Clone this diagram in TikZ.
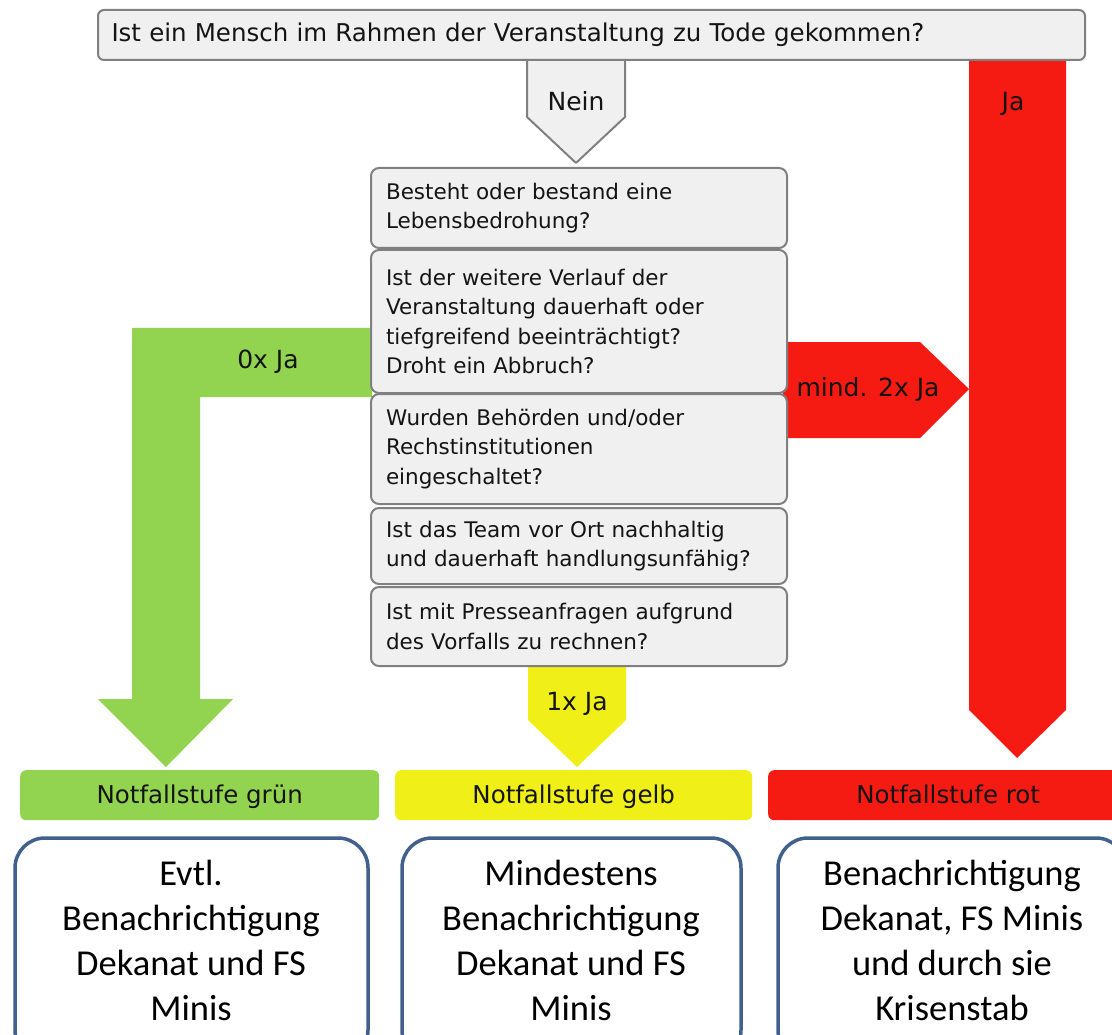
\documentclass[tikz,border=0pt]{standalone}
\usepackage{fontspec}
\setmainfont{DejaVu Sans}
\newfontfamily\calib{Carlito}
\definecolor{qfill}{RGB}{240,240,240}
\definecolor{qline}{RGB}{128,128,128}
\definecolor{lgreen}{RGB}{146,212,80}
\definecolor{lyellow}{RGB}{240,240,24}
\definecolor{lred}{RGB}{245,26,18}
\definecolor{bblue}{RGB}{66,96,140}
\definecolor{txt}{RGB}{20,20,20}
\tikzset{
  qbox/.style={draw=qline, line width=2pt, fill=qfill, rounded corners=8pt,
    anchor=north west, minimum width=416pt, text width=386pt, inner xsep=15pt,
    inner ysep=0pt, align=left, text=txt, font=\fontsize{21.5}{29.5}\selectfont},
  lvl/.style={rounded corners=6pt, anchor=north west, minimum height=50pt,
    inner sep=0pt, text height=20pt, text depth=4pt, text=txt,
    font=\fontsize{24.5}{28}\selectfont},
  bbox/.style={draw=bblue, line width=3.5pt, fill=white, rounded corners=30pt},
  btxt/.style={align=center, font=\calib\fontsize{36.5}{45}\selectfont, text=black},
  lab/.style={text=txt, font=\fontsize{25}{28}\selectfont, inner sep=0pt,
    text height=18pt, text depth=5pt},
}
\begin{document}
\begin{tikzpicture}[x=1pt,y=-1pt]
\useasboundingbox (0,0) rectangle (1112,1035);
\clip (0,0) rectangle (1112,1035);
% block arrows
\fill[lgreen] (372,328) -- (132,328) -- (132,699) -- (98,699) -- (166,767) -- (233,699) -- (200,699) -- (200,397) -- (372,397) -- cycle;
\fill[lred] (969,50) -- (1066,50) -- (1066,710) -- (1017,758) -- (969,710) -- cycle;
\fill[lred] (783,342) -- (920,342) -- (969,389) -- (920,438) -- (783,438) -- cycle;
\fill[lyellow] (528,660) -- (626,660) -- (626,720) -- (577,767) -- (528,720) -- cycle;
\draw[qline, line width=2pt, fill=qfill, line join=round] (527,50) -- (527,117) -- (576,163) -- (625,117) -- (625,50);
% top question
\node[qbox, minimum width=987pt, text width=960pt, inner xsep=13.5pt, minimum height=50pt,
  rounded corners=6pt, font=\fontsize{24.5}{28}\selectfont] (top) at (97,9)
  {Ist ein Mensch im Rahmen der Veranstaltung zu Tode gekommen?};
% labels
\node[lab] (nein) at (576,104) {Nein};
\node[lab] (ja) at (1013,104) {Ja};
\node[lab] (j0) at (268,362) {0x Ja};
\node[lab] (j2) at (868,390) {mind. 2x Ja};
\node[lab] (j1) at (577,704) {1x Ja};
% question boxes
\node[qbox, minimum height=80pt] (q1) at (370,167)
  {Besteht oder bestand eine\\Lebensbedrohung?};
\node[qbox, minimum height=143pt] (q2) at (370,249)
  {Ist der weitere Verlauf der\\Veranstaltung dauerhaft oder\\tiefgreifend beeinträchtigt?\\Droht ein Abbruch?};
\node[qbox, minimum height=110pt] (q3) at (370,393)
  {Wurden Behörden und/oder\\Rechstinstitutionen\\eingeschaltet?};
\node[qbox, minimum height=76pt] (q4) at (370,507)
  {Ist das Team vor Ort nachhaltig\\und dauerhaft handlungsunfähig?};
\node[qbox, minimum height=79pt] (q5) at (370,586)
  {Ist mit Presseanfragen aufgrund\\des Vorfalls zu rechnen?};
% levels
\node[lvl, fill=lgreen, minimum width=359pt] (lg) at (20,770) {Notfallstufe grün};
\node[lvl, fill=lyellow, minimum width=357pt] (ly) at (395,770) {Notfallstufe gelb};
\node[lvl, fill=lred, minimum width=360pt] (lr) at (768,770) {Notfallstufe rot};
% bottom boxes
\draw[bbox] (15,838) rectangle (368,1060);
\draw[bbox] (402,838) rectangle (741,1060);
\draw[bbox] (778,838) rectangle (1126,1060);
\node[btxt] (bg) at (191,940) {Evtl.\\Benachrichtigung\\Dekanat und FS\\Minis};
\node[btxt] (by) at (571,940) {Mindestens\\Benachrichtigung\\Dekanat und FS\\Minis};
\node[btxt] (br) at (952,940) {Benachrichtigung\\Dekanat, FS Minis\\und durch sie\\Krisenstab};
\end{tikzpicture}
\end{document}
